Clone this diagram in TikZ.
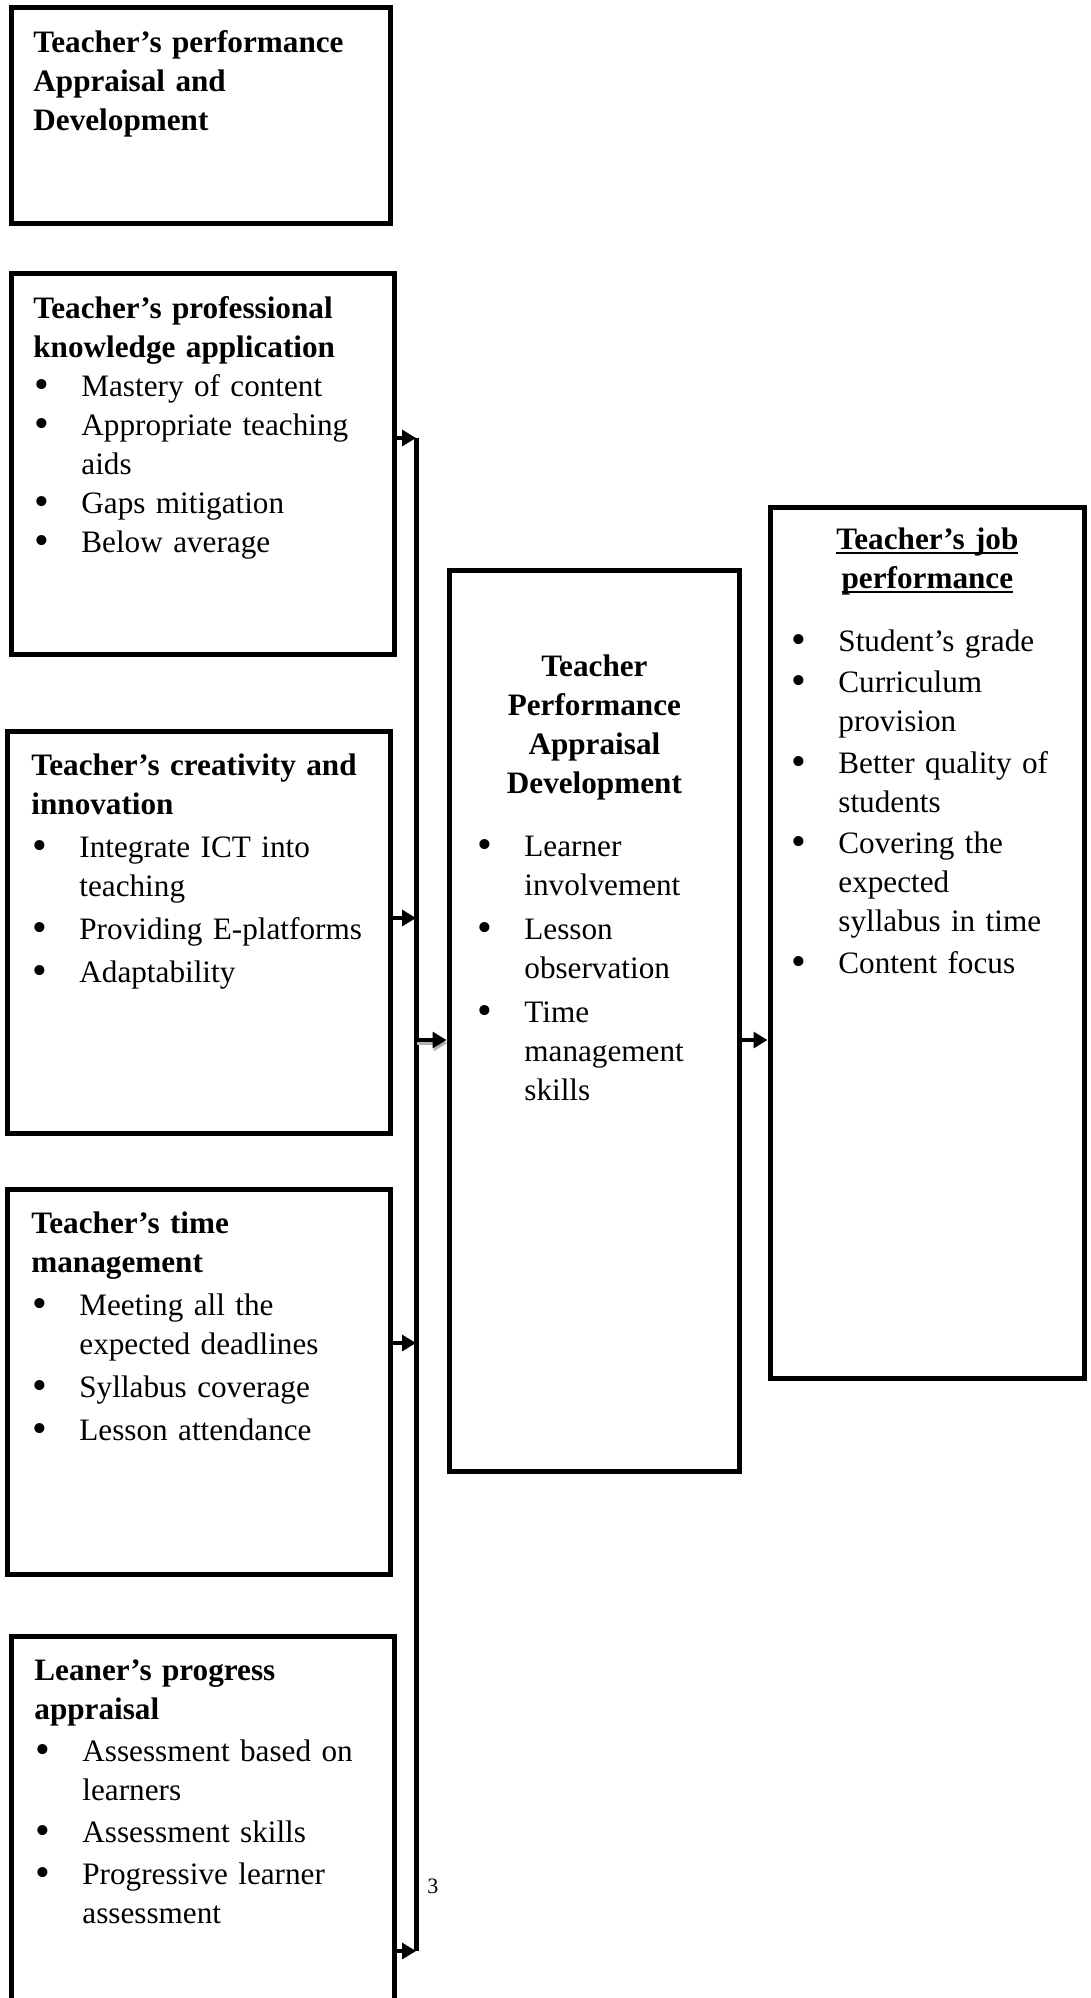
\documentclass[tikz,border=0pt]{standalone}
\usepackage{fontspec}
\setmainfont{Liberation Serif}
\usepackage{tikz}
\usetikzlibrary{arrows.meta,calc,positioning}

\setlength{\parindent}{0pt}
\newlength{\itemgap}
\newcommand{\bitem}[1]{\par\vspace{\itemgap}\noindent\hangindent=24pt\hangafter=1\makebox[24pt][l]{\hspace*{0.6pt}\raisebox{-0.9pt}{\scalebox{1.35}{\textbullet}}}#1\par}
\newcommand{\ulline}[1]{\setbox0=\hbox{#1}\leavevmode\rlap{\rule[-2.3pt]{\wd0}{1.2pt}}\box0}

\begin{document}
\begin{tikzpicture}[x=0.5pt,y=-0.5pt,
    box/.style={draw,line width=2.5pt,inner sep=0pt},
    txt/.style={anchor=north west,inner sep=0pt,align=left,font=\fontsize{15.6}{19.5}\selectfont},
    arr/.style={-{Triangle[length=7pt,width=8pt]},line width=1.6pt}]
    \useasboundingbox (0,0) rectangle (1091,1998);

    % boxes
    \node[box,minimum width=189.5pt,minimum height=108pt] (appr) at (200.5,115.5) {};
    \node[box,minimum width=191.5pt,minimum height=190.5pt] (know) at (202.5,464) {};
    \node[box,minimum width=191.5pt,minimum height=201.25pt] (crea) at (199,932.25) {};
    \node[box,minimum width=191.5pt,minimum height=192.5pt] (time) at (199,1382) {};
    \node[box,minimum width=191.5pt,minimum height=189.25pt] (lear) at (202.5,1825.75) {};
    \node[box,minimum width=145pt,minimum height=450.5pt] (tpad) at (594,1020.5) {};
    \node[box,minimum width=157pt,minimum height=435.5pt] (job) at (927,942.5) {};

    % texts
    \node[txt,text width=178pt] (apprT) at (33,24.7) {\textbf{\strut Teacher's performance\newline Appraisal and\newline Development}};
    \node[txt,text width=178pt] (knowT) at (33,290.7) {\setlength{\itemgap}{0pt}%
        \textbf{\strut Teacher's professional\newline knowledge application}
        \bitem{Mastery of content}
        \bitem{Appropriate teaching\newline aids}
        \bitem{Gaps mitigation}
        \bitem{Below average}};
    \node[txt,text width=178pt] (creaT) at (31,747.7) {\setlength{\itemgap}{2pt}%
        \textbf{\strut Teacher's creativity and\newline innovation}
        \bitem{Integrate ICT into\newline teaching}
        \bitem{Providing E-platforms}
        \bitem{Adaptability}};
    \node[txt,text width=178pt] (timeT) at (31,1205.7) {\setlength{\itemgap}{2pt}%
        \textbf{\strut Teacher's time\newline management}
        \bitem{Meeting all the\newline expected deadlines}
        \bitem{Syllabus coverage}
        \bitem{Lesson attendance}};
    \node[txt,text width=178pt] (learT) at (34,1652.7) {\setlength{\itemgap}{1.5pt}%
        \textbf{\strut Leaner's progress\newline appraisal}
        \bitem{Assessment based on\newline learners}
        \bitem{Assessment skills}
        \bitem{Progressive learner\newline assessment}};
    \node[txt,text width=118pt] (tpadT) at (476,648.7) {\setlength{\itemgap}{2.5pt}%
        {\centering\bfseries\strut Teacher\\ Performance\\ Appraisal\\ Development\par}
        \vspace{9.5pt}
        \bitem{Learner\newline involvement}
        \bitem{Lesson\newline observation}
        \bitem{Time\newline management\newline skills}};
    \node[txt,text width=137pt] (jobT) at (790,521.7) {\setlength{\itemgap}{1.25pt}%
        {\centering\bfseries\strut\ulline{Teacher's job}\\ \ulline{performance}\par}
        \vspace{10.75pt}
        \bitem{Student's grade}
        \bitem{Curriculum\newline provision}
        \bitem{Better quality of\newline students}
        \bitem{Covering the\newline expected\newline syllabus in time}
        \bitem{Content focus}};

    % connectors
    \coordinate (top) at (416,438);
    \coordinate (j3) at (416,918);
    \coordinate (j4) at (416,1343);
    \coordinate (bot) at (416,1951);
    \coordinate (jm) at (416,1040);
    \draw[line width=2.5pt] (top) -- (bot);
    \draw[arr] (know.east |- top) -- (top);
    \draw[arr] (crea.east |- j3) -- (j3);
    \draw[arr] (time.east |- j4) -- (j4);
    \draw[arr] (lear.east |- bot) -- (bot);
    \draw[arr,gray!60] ($(jm)+(1,3)$) -- ($(jm -| tpad.west)+(1,3)$);
    \draw[arr] (jm) -- (jm -| tpad.west);
    \draw[arr] (tpad.east |- jm) -- (jm -| job.west);

    \node[anchor=base west,inner sep=0pt,font=\fontsize{11}{13}\selectfont] (pnum) at (427,1893) {3};
\end{tikzpicture}
\end{document}
